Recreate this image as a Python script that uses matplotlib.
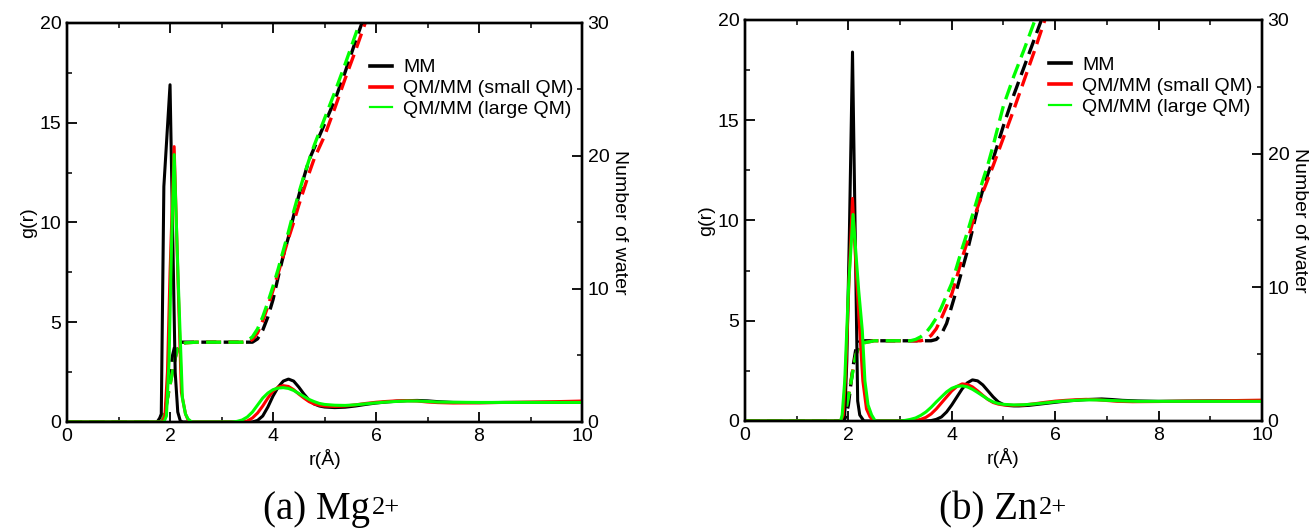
import matplotlib
matplotlib.use("Agg")
import matplotlib.pyplot as plt
from matplotlib.lines import Line2D
from matplotlib.ticker import MultipleLocator

plt.rcParams['font.family'] = ['Liberation Sans', 'DejaVu Sans']

# ---- labels ----
legend_labels = ["MM", "QM/MM (small QM)", "QM/MM (large QM)"]
colors = ["#000000", "#ff0000", "#00ff00"]
captions = ["(a) Mg", "(b) Zn"]
caption_sup = "2+"

# ---- Mg2+ : g(r) ----
mg_mm_r = [0, 1.75, 1.8, 1.83, 1.88, 2.0, 2.1, 2.15, 2.2, 2.25, 3.6, 3.7, 3.8, 3.9, 4.0,
           4.1, 4.2, 4.3, 4.4, 4.5, 4.6, 4.7, 4.8, 4.9, 5.0, 5.2, 5.4, 5.6, 5.8, 6.0, 6.2,
           6.4, 6.6, 6.8, 7.0, 7.2, 7.5, 8.0, 8.5, 9.0, 9.5, 10.0]
mg_mm_g = [0, 0, 0.2, 0.4, 11.8, 16.9, 2.5, 0.5, 0.05, 0, 0, 0.08, 0.3, 0.75, 1.3,
           1.75, 2.05, 2.15, 2.05, 1.75, 1.4, 1.1, 0.9, 0.8, 0.75, 0.72, 0.74, 0.8, 0.88, 0.95, 1.0,
           1.04, 1.07, 1.08, 1.06, 1.02, 0.98, 0.97, 0.98, 0.98, 0.98, 0.99]
mg_small_r = [0, 1.85, 1.9, 1.95, 2.0, 2.08, 2.15, 2.22, 2.3, 2.35, 2.4, 3.4, 3.5, 3.6, 3.7,
              3.8, 3.9, 4.0, 4.1, 4.2, 4.3, 4.4, 4.5, 4.6, 4.7, 4.8, 4.9, 5.0, 5.2, 5.4, 5.6,
              5.8, 6.0, 6.2, 6.4, 6.6, 6.8, 7.0, 7.2, 7.5, 8.0, 8.5, 9.0, 9.5, 10.0]
mg_small_g = [0, 0, 0.3, 2.5, 7.5, 13.8, 7.5, 1.5, 0.4, 0.1, 0, 0, 0.05, 0.2, 0.45,
              0.8, 1.2, 1.55, 1.75, 1.82, 1.78, 1.62, 1.4, 1.2, 1.02, 0.9, 0.84, 0.8, 0.78, 0.8, 0.86,
              0.93, 0.99, 1.03, 1.06, 1.07, 1.05, 1.0, 0.97, 0.95, 0.96, 0.98, 1.0, 1.02, 1.05]
mg_large_r = [0, 1.88, 1.93, 1.98, 2.03, 2.08, 2.16, 2.24, 2.3, 2.35, 2.42, 3.2, 3.3, 3.4, 3.5,
              3.6, 3.7, 3.8, 3.9, 4.0, 4.1, 4.2, 4.3, 4.4, 4.5, 4.6, 4.7, 4.8, 4.9, 5.0, 5.2,
              5.4, 5.6, 5.8, 6.0, 6.2, 6.4, 6.6, 6.8, 7.0, 7.2, 7.5, 8.0, 8.5, 9.0, 9.5, 10.0]
mg_large_g = [0, 0, 0.3, 3.0, 9.0, 13.4, 7.0, 1.2, 0.4, 0.15, 0, 0, 0.03, 0.1, 0.25,
              0.5, 0.85, 1.2, 1.45, 1.62, 1.7, 1.72, 1.68, 1.58, 1.43, 1.28, 1.13, 1.02, 0.93, 0.88, 0.84,
              0.83, 0.86, 0.91, 0.96, 1.0, 1.03, 1.05, 1.05, 1.03, 1.0, 0.99, 0.98, 0.98, 0.98, 0.98, 0.98]

# ---- Mg2+ : number of water ----
mg_mm_nr = [0, 1.85, 1.9, 1.95, 2.0, 2.05, 2.1, 2.15, 3.6, 3.7, 3.8, 3.9, 4.0, 4.1, 4.2,
            4.3, 4.4, 4.5, 4.6, 4.7, 4.8, 5.0, 5.2, 5.4, 5.6, 5.8, 6.0]
mg_mm_n = [0, 0, 0.5, 1.8, 3.5, 5.0, 5.8, 6.0, 6.0, 6.25, 6.9, 7.9, 9.2, 10.9, 12.5,
           13.9, 15.5, 17.0, 18.4, 19.7, 20.6, 22.4, 24.2, 26.3, 28.6, 30.8, 33.0]
mg_small_nr = [0, 1.85, 1.9, 1.95, 2.0, 2.05, 2.1, 2.15, 2.2, 2.3, 2.5, 3.5, 3.6, 3.7, 3.8,
               3.9, 4.0, 4.1, 4.2, 4.3, 4.4, 4.5, 4.6, 4.7, 4.8, 5.0, 5.2, 5.4, 5.6, 5.8, 6.0]
mg_small_n = [0, 0, 0.8, 1.8, 2.8, 3.8, 4.8, 5.5, 5.8, 5.95, 6.0, 6.0, 6.2, 6.7, 7.6,
              8.7, 9.9, 11.2, 12.5, 13.8, 15.0, 16.3, 17.5, 18.7, 19.8, 21.5, 23.6, 25.8, 27.9, 30.1, 32.3]
mg_large_nr = [0, 1.85, 1.9, 1.95, 2.0, 2.05, 2.1, 2.15, 2.2, 2.3, 2.5, 3.4, 3.5, 3.6, 3.7,
               3.8, 3.9, 4.0, 4.1, 4.2, 4.3, 4.4, 4.5, 4.6, 4.7, 4.8, 5.0, 5.2, 5.4, 5.6, 5.8]
mg_large_n = [0, 0, 0.8, 1.8, 2.8, 3.8, 4.8, 5.5, 5.8, 5.95, 6.0, 6.0, 6.1, 6.4, 7.0,
              7.9, 9.0, 10.2, 11.5, 12.9, 14.3, 15.8, 17.2, 18.5, 19.7, 20.8, 22.8, 24.8, 26.9, 29.1, 31.3]

# ---- Zn2+ : g(r) ----
zn_mm_r = [0, 1.9, 1.93, 1.97, 2.02, 2.08, 2.14, 2.18, 2.22, 2.3, 3.5, 3.6, 3.7, 3.8, 3.9,
           4.0, 4.1, 4.2, 4.3, 4.4, 4.5, 4.6, 4.7, 4.8, 4.9, 5.0, 5.1, 5.2, 5.3, 5.5, 5.7,
           5.9, 6.1, 6.3, 6.5, 6.7, 6.9, 7.1, 7.3, 7.6, 8.0, 8.5, 9.0, 9.5, 10.0]
zn_mm_g = [0, 0, 0.3, 3.0, 9.4, 18.4, 8.0, 1.0, 0.3, 0, 0, 0.02, 0.08, 0.2, 0.45,
           0.8, 1.2, 1.6, 1.9, 2.05, 2.0, 1.8, 1.5, 1.2, 0.95, 0.82, 0.77, 0.75, 0.75, 0.78, 0.84,
           0.9, 0.96, 1.01, 1.05, 1.08, 1.1, 1.07, 1.03, 1.0, 0.98, 0.99, 1.0, 1.0, 1.0]
zn_small_r = [0, 1.85, 1.9, 1.95, 2.02, 2.08, 2.15, 2.22, 2.28, 2.35, 2.42, 2.5, 3.2, 3.3, 3.4,
              3.5, 3.6, 3.7, 3.8, 3.9, 4.0, 4.1, 4.2, 4.3, 4.4, 4.5, 4.6, 4.7, 4.8, 4.9, 5.0,
              5.2, 5.4, 5.6, 5.8, 6.0, 6.2, 6.4, 6.6, 6.8, 7.0, 7.2, 7.5, 8.0, 8.5, 9.0, 9.5, 10.0]
zn_small_g = [0, 0, 0.3, 2.5, 7.5, 11.1, 7.5, 4.5, 2.0, 0.6, 0.2, 0, 0, 0.03, 0.08,
              0.18, 0.35, 0.6, 0.9, 1.2, 1.5, 1.72, 1.85, 1.82, 1.7, 1.5, 1.28, 1.07, 0.92, 0.84, 0.8,
              0.78, 0.8, 0.86, 0.93, 0.99, 1.03, 1.06, 1.08, 1.06, 1.02, 0.98, 0.96, 0.97, 0.99, 1.0, 1.02, 1.04]
zn_large_r = [0, 1.85, 1.88, 1.93, 2.0, 2.09, 2.2, 2.27, 2.32, 2.38, 2.45, 2.52, 3.0, 3.1, 3.2,
              3.3, 3.4, 3.5, 3.6, 3.7, 3.8, 3.9, 4.0, 4.1, 4.2, 4.3, 4.4, 4.5, 4.6, 4.7, 4.8,
              4.9, 5.0, 5.2, 5.4, 5.6, 5.8, 6.0, 6.2, 6.4, 6.6, 6.8, 7.0, 7.3, 7.6, 8.0, 9.0, 10.0]
zn_large_g = [0, 0, 0.3, 2.0, 6.5, 10.3, 6.5, 4.5, 2.0, 0.8, 0.3, 0, 0, 0.03, 0.08,
              0.15, 0.28, 0.45, 0.68, 0.95, 1.2, 1.45, 1.63, 1.73, 1.75, 1.7, 1.58, 1.42, 1.25, 1.08, 0.95,
              0.87, 0.83, 0.8, 0.81, 0.85, 0.9, 0.96, 1.0, 1.03, 1.05, 1.05, 1.03, 1.0, 0.98, 0.98, 0.98, 0.98]

# ---- Zn2+ : number of water ----
zn_mm_nr = [0, 1.9, 1.95, 2.0, 2.05, 2.1, 2.15, 2.2, 2.3, 3.6, 3.7, 3.8, 3.9, 4.0, 4.1,
            4.2, 4.3, 4.4, 4.5, 4.6, 4.7, 4.8, 5.0, 5.2, 5.4, 5.6, 5.8]
zn_mm_n = [0, 0, 0.3, 1.2, 2.8, 4.3, 5.5, 5.9, 6.0, 6.0, 6.1, 6.5, 7.3, 8.6, 9.9,
           11.3, 12.7, 14.3, 15.9, 17.3, 18.5, 19.6, 22.1, 24.4, 26.5, 28.6, 30.7]
zn_small_nr = [0, 1.85, 1.9, 1.95, 2.0, 2.05, 2.1, 2.15, 2.2, 2.3, 2.5, 3.4, 3.5, 3.6, 3.7,
               3.8, 3.9, 4.0, 4.1, 4.2, 4.3, 4.4, 4.5, 4.6, 4.7, 4.8, 5.0, 5.2, 5.4, 5.6, 5.8, 6.0]
zn_small_n = [0, 0, 0.3, 0.9, 1.9, 3.0, 4.1, 5.0, 5.5, 5.85, 6.0, 6.0, 6.1, 6.4, 6.9,
              7.7, 8.6, 9.5, 10.8, 12.2, 13.4, 14.8, 16.0, 17.1, 18.1, 19.1, 21.2, 23.3, 25.5, 27.7, 30.0, 32.2]
zn_large_nr = [0, 1.85, 1.9, 1.95, 2.0, 2.05, 2.1, 2.15, 2.2, 2.3, 2.5, 3.2, 3.3, 3.4, 3.5,
               3.6, 3.7, 3.8, 3.9, 4.0, 4.1, 4.2, 4.3, 4.4, 4.5, 4.6, 4.7, 4.8, 5.0, 5.2, 5.4, 5.6, 5.8]
zn_large_n = [0, 0, 0.2, 0.8, 1.8, 2.9, 4.0, 5.0, 5.5, 5.85, 6.0, 6.0, 6.1, 6.3, 6.6,
              7.1, 7.7, 8.5, 9.4, 10.3, 11.6, 12.9, 14.1, 15.4, 16.7, 18.0, 19.2, 20.6, 23.6, 25.8, 27.8, 29.9, 32.0]

panels = [
    dict(pos=[0.0511, 0.2038, 0.3925, 0.7530], cap_x=0.282,
         g=[(mg_mm_r, mg_mm_g), (mg_small_r, mg_small_g), (mg_large_r, mg_large_g)],
         n=[(mg_mm_nr, mg_mm_n), (mg_small_nr, mg_small_n), (mg_large_nr, mg_large_n)]),
    dict(pos=[0.5678, 0.2057, 0.3941, 0.7566], cap_x=0.7904,
         g=[(zn_mm_r, zn_mm_g), (zn_small_r, zn_small_g), (zn_large_r, zn_large_g)],
         n=[(zn_mm_nr, zn_mm_n), (zn_small_nr, zn_small_n), (zn_large_nr, zn_large_n)]),
]

fig = plt.figure(figsize=(13.12, 5.30), dpi=100)

for i, p in enumerate(panels):
    ax = fig.add_axes(p['pos'])
    ax2 = ax.twinx()
    ax.set_zorder(ax2.get_zorder() + 1)
    ax.patch.set_visible(False)

    for (r, g), c in zip(p['g'], colors):
        ax.plot(r, g, color=c, lw=2.2, solid_joinstyle='round')
    for (r, n), c in zip(p['n'], colors):
        ax2.plot(r, n, color=c, lw=2.4, linestyle=(0, (4.5, 2.2)))

    ax.set_xlim(0, 10)
    ax.set_ylim(0, 20)
    ax2.set_ylim(0, 30)
    ax.xaxis.set_major_locator(MultipleLocator(2))
    ax.xaxis.set_minor_locator(MultipleLocator(1))
    ax.yaxis.set_major_locator(MultipleLocator(5))
    ax.yaxis.set_minor_locator(MultipleLocator(2.5))
    ax2.yaxis.set_major_locator(MultipleLocator(10))
    ax2.yaxis.set_minor_locator(MultipleLocator(5))

    ax.tick_params(axis='x', which='both', direction='in', top=True, labelsize=14, pad=4)
    ax.tick_params(axis='y', which='both', direction='in', right=False, labelsize=14, pad=4)
    ax2.tick_params(axis='y', which='both', direction='in', labelsize=14, pad=4)
    for a in (ax, ax2):
        a.tick_params(which='major', length=7, width=1.3)
        a.tick_params(which='minor', length=3.8, width=1.1)
        for s in a.spines.values():
            s.set_linewidth(1.7)

    ax.set_xlabel('r(Å)', fontsize=14, labelpad=3)
    ax.set_ylabel('g(r)', fontsize=14, labelpad=2)
    ax2.set_ylabel('Number of water', fontsize=14, rotation=270, va='bottom', labelpad=1)

    handles = [Line2D([], [], color=c, lw=w) for c, w in zip(colors, [2.6, 2.6, 1.6])]
    ax.legend(handles, legend_labels, loc='upper left', bbox_to_anchor=(0.588, 0.91),
              frameon=False, fontsize=14, borderpad=0, borderaxespad=0,
              handlelength=1.15, handletextpad=0.55, labelspacing=0.17)

    # caption with superscript charge
    t = fig.text(p['cap_x'], 0.038, captions[i], ha='right', va='center',
                 fontsize=28, family='Liberation Serif')
    fig.text(0, 0, caption_sup, fontsize=19, family='Liberation Serif',
             ha='left', va='top', transform=matplotlib.transforms.offset_copy(
                 t.get_transform(), fig=fig, x=0, y=0))
    t.set_visible(True)

fig.canvas.draw()
# place superscripts right after the caption text
texts = [tx for tx in fig.texts]
for k in range(0, len(texts), 2):
    base, sup = texts[k], texts[k + 1]
    bb = base.get_window_extent()
    inv = fig.transFigure.inverted()
    x0, y1 = inv.transform((bb.x1 + 2, bb.y1 - 6))
    sup.set_transform(fig.transFigure)
    sup.set_position((x0, y1))

fig.savefig('out.png', dpi=100)
